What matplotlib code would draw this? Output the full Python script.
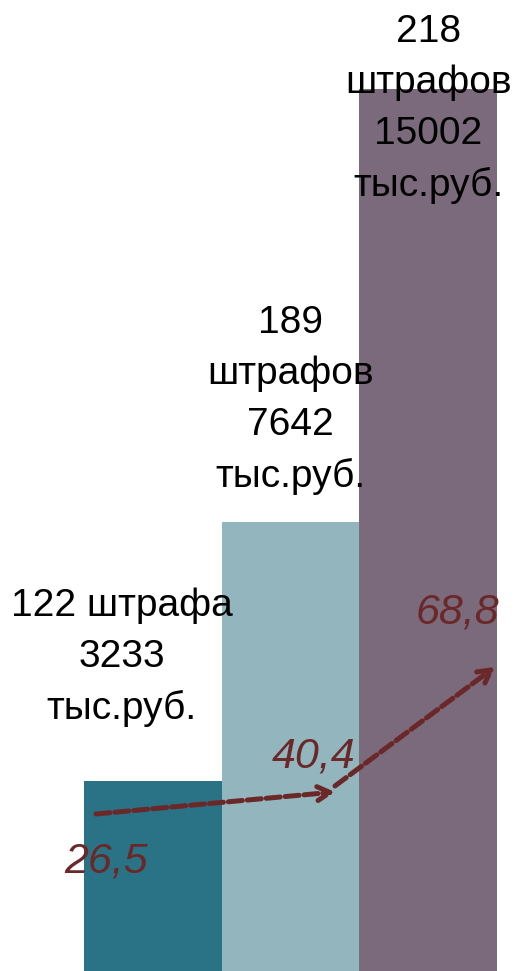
import matplotlib.pyplot as plt

# суммы штрафов, тыс. руб.
amounts = [3233, 7642, 15002]
counts = ["122 штрафа", "189\nштрафов", "218\nштрафов"]
shares = ["26,5", "40,4", "68,8"]
colors = ["#2a7285", "#93b6be", "#7a6a7b"]
arrow_col = "#6b2828"

plt.rcParams['font.family'] = ['Liberation Sans Narrow', 'Liberation Sans', 'DejaVu Sans']

fig = plt.figure(figsize=(5.17, 9.71), dpi=100)
ax = fig.add_axes([0, 0, 1, 1])
x = range(len(amounts))
ax.bar(x, amounts, width=1.0, color=colors, edgecolor='none')
ax.set_xlim(-1.11, 2.645)
ax.set_ylim(0, 16510)
ax.axis('off')

# подписи над столбцами
labels = [c + "\n" + str(a) + "\nтыс.руб." for c, a in zip(counts, amounts)]
label_pos = [(-0.225, 5330), (1.0, 9710), (2.0, 14660)]
for (lx, ly), txt in zip(label_pos, labels):
    ax.text(lx, ly, txt, ha='center', va='center', fontsize=28,
            linespacing=1.52, color='black')

# доли, %
share_pos = [(-0.34, 1860), (1.17, 3640), (2.21, 6100)]
for (sx, sy), s in zip(share_pos, shares):
    ax.text(sx, sy, s, ha='center', va='center', fontsize=31,
            style='italic', color=arrow_col)

arrows = [((-0.413, 2670), (1.323, 3044)), ((1.323, 3146), (2.485, 5170))]
for start, end in arrows:
    ax.annotate("", xy=end, xytext=start,
                arrowprops=dict(arrowstyle="->,head_length=0.9,head_width=0.5",
                                color=arrow_col, lw=3.6, linestyle=(0, (2.8, 1.0)),
                                shrinkA=0, shrinkB=0))

fig.savefig("out.png", dpi=100)
